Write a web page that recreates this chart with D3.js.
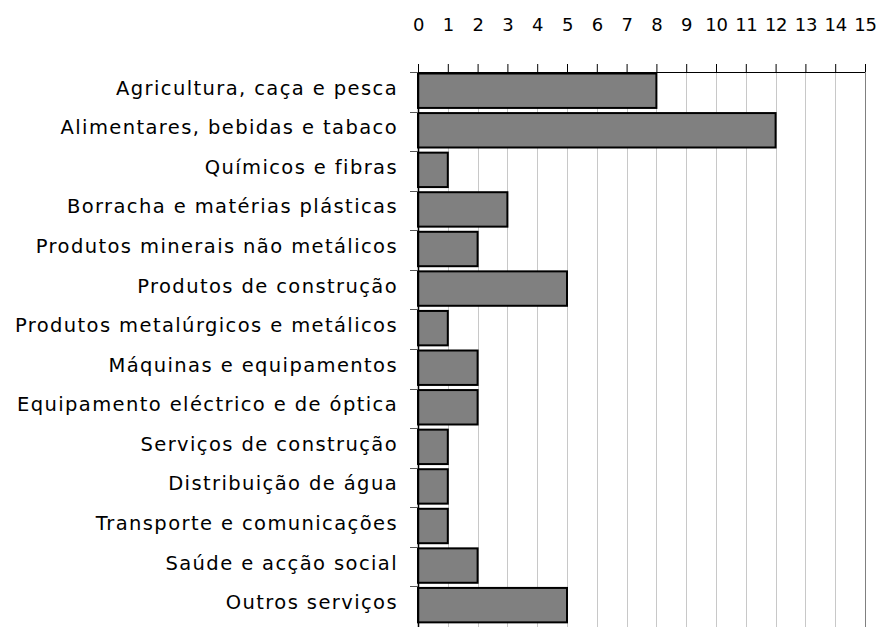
<!DOCTYPE html>
<html lang="pt">
<head>
<meta charset="UTF-8">
<title>Sectores</title>
<script src="https://d3js.org/d3.v7.min.js"></script>
<style>
    body { margin: 0; background: #fff; }
    svg text { font-family: "DejaVu Sans", Verdana, sans-serif; fill: #000; }
</style>
</head>
<body>
<div id="chart"></div>
<script>
    const categories = [
        "Agricultura, caça e pesca",
        "Alimentares, bebidas e tabaco",
        "Químicos e fibras",
        "Borracha e matérias plásticas",
        "Produtos minerais não metálicos",
        "Produtos de construção",
        "Produtos metalúrgicos e metálicos",
        "Máquinas e equipamentos",
        "Equipamento eléctrico e de óptica",
        "Serviços de construção",
        "Distribuição de água",
        "Transporte e comunicações",
        "Saúde e acção social",
        "Outros serviços"
    ];
    const values = [8, 12, 1, 3, 2, 5, 1, 2, 2, 1, 1, 1, 2, 5];
    const tickValues = d3.range(0, 16);

    const width = 879, height = 627;
    const margin = {top: 72, right: 14, bottom: 1, left: 418};

    const svg = d3.select("#chart").append("svg")
        .attr("width", width)
        .attr("height", height);

    const x = d3.scaleLinear()
        .domain([0, 15])
        .range([margin.left, width - margin.right]);

    const y = d3.scaleBand()
        .domain(categories)
        .range([margin.top, height - margin.bottom]);

    // vertical grid lines
    svg.append("g")
        .selectAll("line")
        .data(tickValues.slice(1))
        .join("line")
        .attr("x1", d => Math.round(x(d)) + 0.5)
        .attr("x2", d => Math.round(x(d)) + 0.5)
        .attr("y1", margin.top)
        .attr("y2", height)
        .attr("stroke", d => d === 15 ? "#808080" : "#c8c8c8")
        .attr("stroke-width", 1);

    // bars
    const barH = y.bandwidth() * 0.87;
    svg.append("g")
        .selectAll("rect")
        .data(values)
        .join("rect")
        .attr("x", x(0))
        .attr("y", (d, i) => y(categories[i]) + 1.5)
        .attr("width", d => x(d) - x(0))
        .attr("height", barH)
        .attr("fill", "#808080")
        .attr("stroke", "#000")
        .attr("stroke-width", 2);

    // top axis
    const xAxis = svg.append("g")
        .attr("transform", `translate(0,${margin.top})`)
        .call(d3.axisTop(x).tickValues(tickValues).tickSize(8).tickPadding(33).tickFormat(d3.format("d")));
    xAxis.select(".domain").attr("stroke", "#000").attr("d", `M${x(0) - 8},0.5H${x(15)}`);
    xAxis.selectAll(".tick line").attr("stroke", "#000");
    xAxis.selectAll(".tick text").attr("font-size", 18).attr("letter-spacing", -0.3);

    // left axis
    const yAxis = svg.append("g")
        .attr("transform", `translate(${margin.left},0)`)
        .call(d3.axisLeft(y).tickSize(0).tickPadding(20));
    yAxis.select(".domain").attr("stroke", "#000").attr("stroke-width", 1.5)
        .attr("d", `M0.5,${margin.top}V${height}`);
    yAxis.selectAll(".tick text")
        .attr("font-size", 19.5)
        .attr("letter-spacing", 1.4)
        .attr("dy", "0.15em");

    // category separators on the left axis
    svg.append("g")
        .selectAll("line")
        .data(categories)
        .join("line")
        .attr("x1", margin.left - 8)
        .attr("x2", margin.left)
        .attr("y1", d => Math.round(y(d)) + 0.5)
        .attr("y2", d => Math.round(y(d)) + 0.5)
        .attr("stroke", "#555");
</script>
</body>
</html>
